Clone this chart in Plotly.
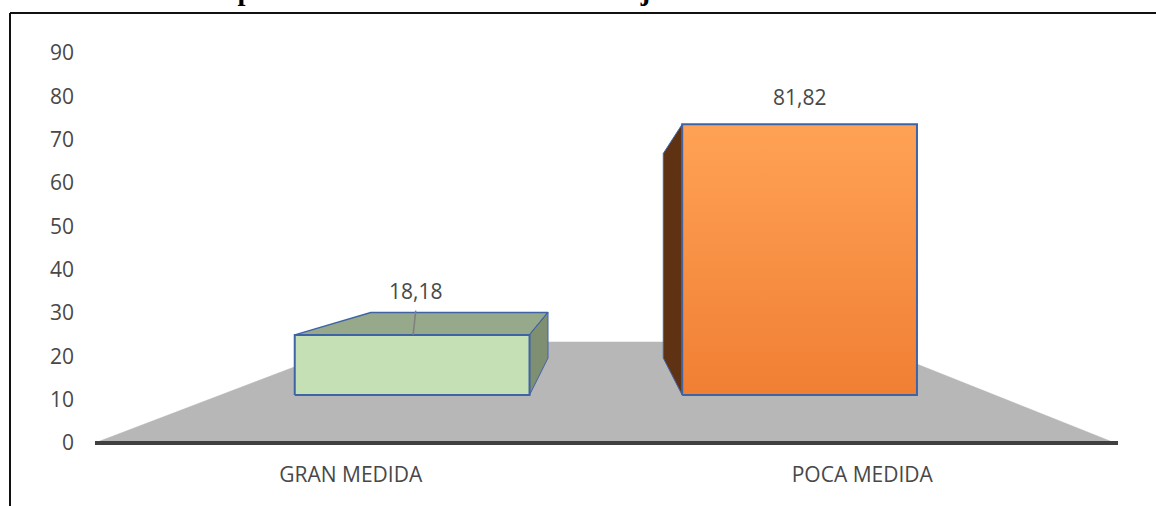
import plotly.graph_objects as go

categories = ["GRAN MEDIDA", "POCA MEDIDA"]
values = [18.18, 81.82]
value_labels = ["18,18", "81,82"]
y_ticks = [0, 10, 20, 30, 40, 50, 60, 70, 80, 90]
title_text = "Aportaciones\u00a0\u00a0en\u00a0\u00a0estudiantes\u00a0\u00a0reflejadas\u00a0\u00a0en\u00a0\u00a0la\u00a0\u00a0base\u00a0\u00a0de\u00a0\u00a0datos"

# projection of the 3-D column chart, in axis units
BASE = 10.6
SCALE = 0.764
VP_X, VP_Y = 0.497, 45.5
K = 0.755
HALF = 0.2295
SHIFT = [0.12, -0.1225]
EDGE = "#3F64A6"

def back(x, y):
    return VP_X + K * (x - VP_X), VP_Y + K * (y - VP_Y)

def poly(pts, fill=None, name="", grad=None, line=EDGE, width=1.5):
    xs = [p[0] for p in pts] + [pts[0][0]]
    ys = [p[1] for p in pts] + [pts[0][1]]
    kw = dict(fillgradient=grad) if grad else dict(fillcolor=fill)
    return go.Scatter(x=xs, y=ys, mode="lines", fill="toself", name=name,
                      line=dict(color=line, width=width), hoverinfo="skip", showlegend=False, **kw)

fig = go.Figure()
# floor
fig.add_trace(poly([(-0.4902, 0), (1.4844, 0), (0.9985, 22.85), (0.0180, 22.85)],
                   fill="#B7B7B7", line="#B7B7B7", width=0.5))

def corners(i):
    c = i + SHIFT[i]
    l, r = c - HALF, c + HALF
    top = BASE + SCALE * values[i]
    return l, r, top

# green column
l, r, t = corners(0)
fig.add_trace(poly([(l, t), (r, t), back(r, t), back(l, t)], fill="#96A98A"))
fig.add_trace(poly([(r, BASE), (r, t), back(r, t), back(r, BASE)], fill="#7F8F72", width=1))
fig.add_trace(poly([(l, BASE), (r, BASE), (r, t), (l, t)], fill="#C6E0B5", width=2))
# leader line of the first label
fig.add_trace(go.Scatter(x=[l + HALF + 0.002, l + HALF + 0.007], y=[t, t + 5.6], mode="lines",
                         line=dict(color="#7F7F7F", width=1.5), hoverinfo="skip", showlegend=False))

# orange column
l, r, t = corners(1)
fig.add_trace(poly([(l, BASE), (l, t), back(l, t), back(l, BASE)], fill="#5F3213", width=1))
fig.add_trace(poly([(l, BASE), (r, BASE), (r, t), (l, t)], width=2,
                   grad=dict(type="vertical",
                             colorscale=[[0, "#F07F33"], [1, "#FFA255"]])))

# value labels
lab_offset = [10.2, 6.2]
for i in range(2):
    l, r, t = corners(i)
    fig.add_annotation(x=(l + r) / 2 + (0.007 if i == 0 else 0), y=t + lab_offset[i], text=value_labels[i],
                       showarrow=False, font=dict(family="Open Sans", size=21, color="#484848"))

fx = lambda px: (px - 95) / 1023
fy = lambda py: (441 - py) / 390
fig.add_shape(type="line", xref="paper", yref="paper", x0=fx(10), x1=fx(1156), y0=fy(13), y1=fy(13),
              line=dict(color="#111111", width=2))
fig.add_shape(type="line", xref="paper", yref="paper", x0=fx(10), x1=fx(10), y0=fy(13), y1=fy(506),
              line=dict(color="#111111", width=2))
fig.add_annotation(xref="paper", yref="paper", x=fx(596), y=fy(2), yanchor="bottom", yshift=-6,
                   text="<b>%s</b>" % title_text, showarrow=False,
                   font=dict(family="Liberation Serif", size=28.5, color="#000000"))

fig.update_layout(
    width=1156, height=506, autosize=False,
    margin=dict(l=95, r=38, t=51, b=65),
    paper_bgcolor="white", plot_bgcolor="white", showlegend=False,
    font=dict(family="Open Sans", size=21, color="#484848"),
    xaxis=dict(range=[-0.5, 1.5], tickmode="array", tickvals=[0, 1], ticktext=categories,
               showgrid=False, zeroline=False, showline=True, linecolor="#404040", linewidth=4,
               ticks="", ticklabelstandoff=12, layer="above traces"),
    yaxis=dict(range=[0, 90], tickmode="array", tickvals=y_ticks, showgrid=False, zeroline=False,
               showline=False, ticks="", ticklabelstandoff=20, ticklabelshift=2),
)
fig.write_html("out.html", config=dict(displayModeBar=False),
               post_script="document.body.style.margin='0';document.documentElement.style.overflow='hidden';")
